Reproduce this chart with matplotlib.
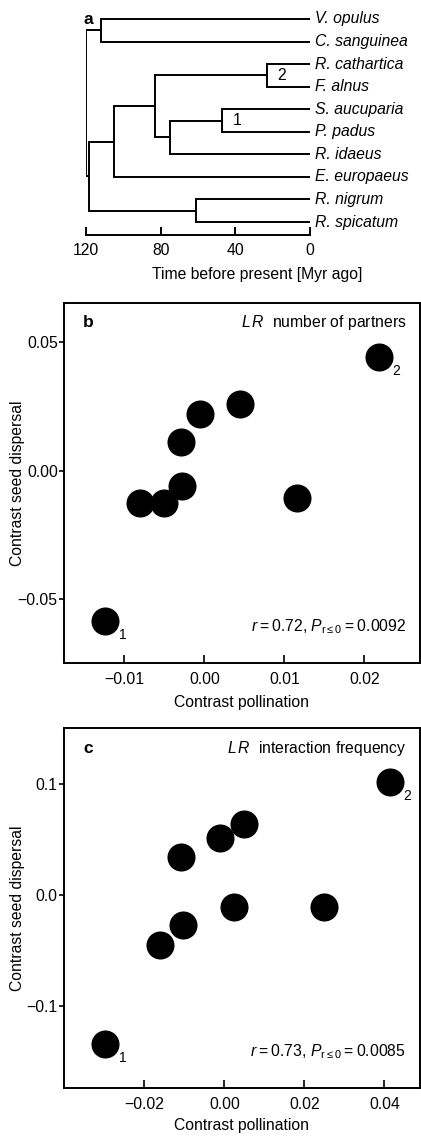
import matplotlib
matplotlib.use("Agg")
import matplotlib.pyplot as plt
import numpy as np

plt.rcParams['font.family'] = ['Liberation Sans', 'DejaVu Sans']
plt.rcParams['mathtext.fontset'] = 'custom'
plt.rcParams['mathtext.rm'] = 'Liberation Sans'
plt.rcParams['mathtext.it'] = 'Liberation Sans:italic'
plt.rcParams['mathtext.bf'] = 'Liberation Sans:bold'

# --- panel a: dated phylogeny (ages in Myr) ---
taxa = ["V. opulus", "C. sanguinea", "R. cathartica", "F. alnus", "S. aucuparia",
        "P. padus", "R. idaeus", "E. europaeus", "R. nigrum", "R. spicatum"]
node_names = ["VC", "RF", "SP", "SPR", "ROS", "ROSE", "RR", "CORE", "ROOT"]
node_children = [["V. opulus", "C. sanguinea"], ["R. cathartica", "F. alnus"],
                 ["S. aucuparia", "P. padus"], ["SP", "R. idaeus"], ["RF", "SPR"],
                 ["ROS", "E. europaeus"], ["R. nigrum", "R. spicatum"],
                 ["ROSE", "RR"], ["VC", "CORE"]]
node_ages = [112, 23, 47, 75, 83, 105, 61, 118.5, 120]
node_labels = {"RF": "2", "SP": "1"}
time_ticks = [120, 80, 40, 0]

# --- panel b: LR number of partners ---
b_poll = [-0.0124, 0.0218, 0.0044, -0.0006, -0.0029, -0.0028, -0.0081, -0.0050, 0.0116]
b_seed = [-0.0585, 0.0441, 0.0260, 0.0222, 0.0114, -0.0058, -0.0127, -0.0127, -0.0106]
b_stat = "$r$\u2009=\u20090.72, $P_{\\mathrm{r\\leq0}}$\u2009=\u20090.0092"

# --- panel c: LR interaction frequency ---
c_poll = [-0.0298, 0.0414, 0.0049, -0.0010, -0.0108, 0.0025, 0.0248, -0.0104, -0.0161]
c_seed = [-0.1349, 0.1021, 0.0644, 0.0518, 0.0341, -0.0111, -0.0106, -0.0268, -0.0452]
c_stat = "$r$\u2009=\u20090.73, $P_{\\mathrm{r\\leq0}}$\u2009=\u20090.0085"

W, H = 421, 1137
fig = plt.figure(figsize=(W / 100, H / 100), dpi=100)


def px_axes(left, top, right, bottom):
    return fig.add_axes([left / W, 1 - bottom / H, (right - left) / W, (bottom - top) / H])


FS = 11.3
LW = 1.4

# tree
ax = px_axes(86, 10, 310, 235)
ypos = {t: i for i, t in enumerate(taxa)}
age = {t: 0 for t in taxa}
for name, kids, a in zip(node_names, node_children, node_ages):
    ys = [ypos[k] for k in kids]
    ypos[name] = np.mean(ys)
    age[name] = a
    for k in kids:
        ax.plot([age[k], a], [ypos[k], ypos[k]], color='black', lw=LW, solid_capstyle='butt')
    ax.plot([a, a], [min(ys), max(ys)], color='black', lw=LW, solid_capstyle='projecting')
for t in taxa:
    ax.text(-2.5, ypos[t], t, style='italic', fontsize=FS, ha='left', va='center', clip_on=False)
for name, lab in node_labels.items():
    ax.text(age[name] - 5.5, ypos[name], lab, fontsize=FS, ha='left', va='center')
ax.set_xlim(120, 0)
ax.set_ylim((235 - 19) / 22.56, (10 - 19) / 22.56)
for s in ['top', 'left', 'right']:
    ax.spines[s].set_visible(False)
ax.spines['bottom'].set_linewidth(LW)
ax.spines['bottom'].set_bounds(120, 0)
ax.set_yticks([])
ax.set_xticks(time_ticks)
ax.set_xticklabels([str(t) for t in time_ticks])
ax.tick_params(axis='x', direction='in', length=5.5, width=LW, pad=6, labelsize=FS)
fig.text(257 / W, 1 - 275 / H, "Time before present [Myr ago]", fontsize=FS, ha='center', va='center')
fig.text(88 / W, 1 - 20 / H, "a", fontsize=12.5, fontweight='bold', ha='center', va='center')


def scatter_panel(ax, x, y, letter, title, stat, xlim, ylim, xticks, yticks, xfmt, yfmt, xlab_y):
    ax.plot(x, y, 'o', color='black', markersize=19.2, clip_on=False, zorder=3)
    ax.annotate("1", (x[0], y[0]), xytext=(12.6, -10), textcoords='offset points',
                fontsize=10, ha='center', va='center')
    ax.annotate("2", (x[1], y[1]), xytext=(12.6, -10), textcoords='offset points',
                fontsize=10, ha='center', va='center')
    ax.set_xlim(*xlim)
    ax.set_ylim(*ylim)
    ax.set_xticks(xticks)
    ax.set_xticklabels([xfmt.format(v).replace('-', '\u2212') for v in xticks])
    ax.set_yticks(yticks)
    ax.set_yticklabels([yfmt.format(v).replace('-', '\u2212') for v in yticks])
    ax.tick_params(axis='x', direction='in', length=6, width=1.2, pad=6.5, labelsize=FS)
    ax.tick_params(axis='y', direction='out', length=3.5, width=1.2, pad=1, labelsize=FS)
    for s in ax.spines.values():
        s.set_linewidth(LW)
    ax.text(0.067, 0.945, letter, transform=ax.transAxes, fontsize=12.5, fontweight='bold',
            ha='center', va='center')
    ax.text(0.961, 0.945, title, transform=ax.transAxes, fontsize=FS, ha='right', va='center')
    ax.text(0.961, 0.101, stat, transform=ax.transAxes, fontsize=FS, ha='right', va='center')
    ax.set_xlabel("Contrast pollination", fontsize=FS)
    ax.xaxis.set_label_coords(0.5, xlab_y)
    ax.xaxis.label.set_verticalalignment('center')
    ax.set_ylabel("Contrast seed dispersal", fontsize=FS)
    ax.yaxis.set_label_coords(-0.132, 0.5)
    ax.yaxis.label.set_verticalalignment('center')


axb = px_axes(64, 303, 420, 663)
scatter_panel(axb, b_poll, b_seed, "b", r"$L\,R$  number of partners", b_stat,
              (-0.01754, 0.02696), (-0.0748, 0.0653),
              [-0.01, 0.0, 0.01, 0.02], [-0.05, 0.0, 0.05], "{:.2f}", "{:.2f}", -0.110)

axc = px_axes(64, 728.3, 420, 1088.3)
scatter_panel(axc, c_poll, c_seed, "c", r"$L\,R$  interaction frequency", c_stat,
              (-0.04008, 0.04892), (-0.1746, 0.1506),
              [-0.02, 0.0, 0.02, 0.04], [-0.1, 0.0, 0.1], "{:.2f}", "{:.1f}", -0.102)

fig.savefig("out.png", dpi=100)
